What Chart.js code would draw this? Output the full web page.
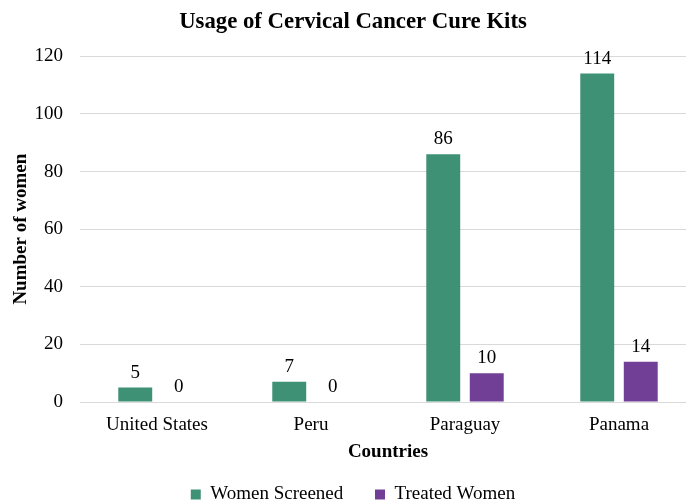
<!DOCTYPE html>
<html>
<head>
<meta charset="utf-8">
<script src="https://cdn.jsdelivr.net/npm/chart.js@4/dist/chart.umd.min.js"></script>
<style>
  html, body { margin: 0; padding: 0; background: #fff; overflow: hidden; width: 686px; height: 503px; }
  #wrap { width: 706px; height: 514px; }
</style>
</head>
<body>
<div id="wrap"><canvas id="usageChart" width="706" height="514"></canvas></div>
<script>
// values
const countries = ['United States', 'Peru', 'Paraguay', 'Panama'];
const womenScreened = [5, 7, 86, 114];
const treatedWomen = [0, 0, 10, 14];
const yTicks = [0, 20, 40, 60, 80, 100, 120];

const serif = "'Liberation Serif', 'Times New Roman', serif";

// small plugin to print the value above each bar
const barLabels = {
    id: 'barLabels',
    afterDatasetsDraw(chart) {
        const ctx = chart.ctx;
        ctx.save();
        ctx.font = '19px ' + serif;
        ctx.fillStyle = '#000';
        ctx.textAlign = 'center';
        ctx.textBaseline = 'alphabetic';
        chart.data.datasets.forEach((ds, i) => {
            chart.getDatasetMeta(i).data.forEach((bar, j) => {
                ctx.fillText(ds.data[j], bar.x, bar.y - 10);
            });
        });
        ctx.restore();
    }
};

function renderChart() {
    const ctx = document.getElementById('usageChart').getContext('2d');

    const data = {
        labels: countries,
        datasets: [{
            label: 'Women Screened',
            data: womenScreened,
            backgroundColor: '#3e9175',
            borderWidth: 0,
            barPercentage: 0.78,
            categoryPercentage: 0.565
        }, {
            label: 'Treated Women',
            data: treatedWomen,
            backgroundColor: '#723f96',
            borderWidth: 0,
            barPercentage: 0.78,
            categoryPercentage: 0.565
        }]
    };

    const config = {
        type: 'bar',
        data: data,
        plugins: [barLabels],
        options: {
            responsive: false,
            animation: false,
            layout: { padding: { left: 10, right: 10, top: 0, bottom: 0 } },
            plugins: {
                title: {
                    display: true,
                    text: 'Usage of Cervical Cancer Cure Kits',
                    color: '#000',
                    font: { family: serif, size: 22.75, weight: 'bold', lineHeight: 1.2 },
                    padding: { top: 8.5, bottom: 20.5 }
                },
                legend: {
                    position: 'bottom',
                    labels: {
                        color: '#000',
                        font: { family: serif, size: 19 },
                        boxWidth: 10,
                        boxHeight: 10,
                        padding: 8,
                        // widen the gap between the two entries a bit
                        generateLabels(chart) {
                            const items = Chart.defaults.plugins.legend.labels.generateLabels(chart);
                            items.forEach((it, i) => {
                                if (i < items.length - 1) it.text = it.text + '     ';
                            });
                            return items;
                        }
                    }
                },
                tooltip: { enabled: false }
            },
            scales: {
                x: {
                    grid: { display: false, drawTicks: false },
                    border: { display: true, color: '#d9d9d9', width: 1 },
                    ticks: { color: '#000', font: { family: serif, size: 19 }, padding: 12 },
                    title: {
                        display: true,
                        text: 'Countries',
                        color: '#000',
                        font: { family: serif, size: 19, weight: 'bold' },
                        padding: { top: 0, bottom: 14 }
                    },
                    afterFit(scale) { scale.height = 75; }
                },
                y: {
                    min: 0,
                    max: 120,
                    afterBuildTicks(scale) { scale.ticks = yTicks.map(v => ({ value: v })); },
                    grid: { color: '#d9d9d9', drawTicks: false },
                    border: { display: false },
                    ticks: { color: '#000', font: { family: serif, size: 19 }, padding: 17 },
                    title: {
                        display: true,
                        text: 'Number of women',
                        color: '#000',
                        font: { family: serif, size: 19, weight: 'bold' },
                        padding: { top: 0, bottom: 0 }
                    },
                    afterFit(scale) { scale.width = 70; }
                }
            }
        }
    };

    new Chart(ctx, config);
}

renderChart();
</script>
</body>
</html>
